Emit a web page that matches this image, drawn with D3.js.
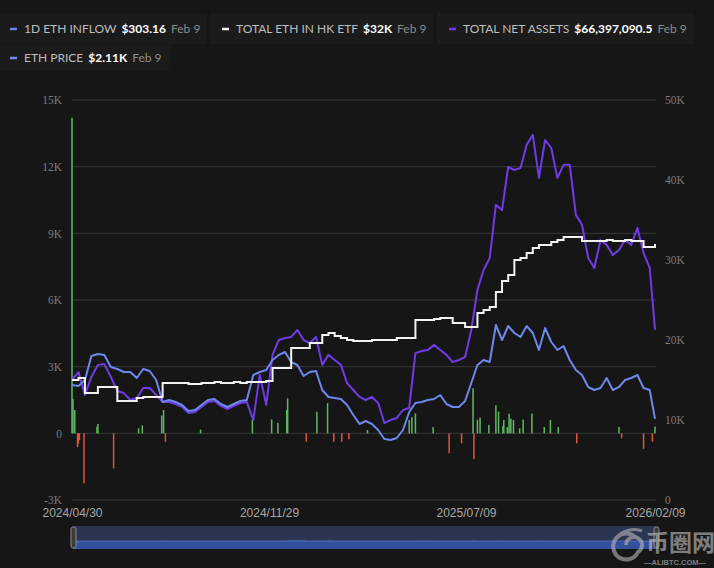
<!DOCTYPE html>
<html>
<head>
<meta charset="utf-8">
<script src="https://cdn.jsdelivr.net/npm/d3@7"></script>
<style>
  html, body { margin: 0; padding: 0; background: #161616; overflow: hidden; }
  svg { display: block; }
</style>
</head>
<body>
<div id="myChart"></div>
<script>
// weekly sample dates
let weekDates = [
  "2024-04-30","2024-05-07","2024-05-14","2024-05-21","2024-05-28","2024-06-04","2024-06-11","2024-06-18","2024-06-25","2024-07-02",
  "2024-07-09","2024-07-16","2024-07-23","2024-07-30","2024-08-06","2024-08-13","2024-08-20","2024-08-27","2024-09-03","2024-09-10",
  "2024-09-17","2024-09-24","2024-10-01","2024-10-08","2024-10-15","2024-10-22","2024-10-29","2024-11-05","2024-11-12","2024-11-19",
  "2024-11-26","2024-12-03","2024-12-10","2024-12-17","2024-12-24","2024-12-31","2025-01-07","2025-01-14","2025-01-21","2025-01-28",
  "2025-02-04","2025-02-11","2025-02-18","2025-02-25","2025-03-04","2025-03-11","2025-03-18","2025-03-25","2025-04-01","2025-04-08",
  "2025-04-15","2025-04-22","2025-04-29","2025-05-06","2025-05-13","2025-05-20","2025-05-27","2025-06-03","2025-06-10","2025-06-17",
  "2025-06-24","2025-07-01","2025-07-08","2025-07-15","2025-07-22","2025-07-29","2025-08-05","2025-08-12","2025-08-19","2025-08-26",
  "2025-09-02","2025-09-09","2025-09-16","2025-09-23","2025-09-30","2025-10-07","2025-10-14","2025-10-21","2025-10-28","2025-11-04",
  "2025-11-11","2025-11-18","2025-11-25","2025-12-02","2025-12-09","2025-12-16","2025-12-23","2025-12-30","2026-01-06","2026-01-13",
  "2026-01-20","2026-01-27","2026-02-03","2026-02-09"
];

// ETH price, USD
let ethPrice = [
  2990, 2964, 3120, 3744, 3796, 3770, 3458, 3406, 3328, 3328,
  3172, 3406, 3354, 3120, 2550, 2600, 2548, 2470, 2314, 2340,
  2470, 2600, 2626, 2496, 2418, 2496, 2574, 2600, 3250, 3328,
  3380, 3640, 3770, 3848, 3588, 3510, 3224, 3328, 3354, 2860,
  2678, 2652, 2626, 2470, 2210, 1976, 2054, 1976, 1820, 1586,
  1560, 1612, 1820, 2288, 2522, 2548, 2600, 2626, 2730, 2496,
  2418, 2418, 2574, 3042, 3510, 3640, 3588, 4550, 4160, 4524,
  4342, 4238, 4524, 4342, 3900, 4472, 4108, 3900, 4004, 3640,
  3380, 3250, 2938, 2860, 2912, 3172, 2860, 2938, 3120, 3172,
  3250, 2912, 2860, 2110
];

// total net assets, USD millions
let netAssets = [
  46.8, 49.9, 41.0, 48.0, 52.7, 53.0, 48.0, 42.5, 41.7, 39.0,
  39.8, 43.7, 43.7, 41.0, 38.2, 38.2, 37.4, 36.3, 33.9, 34.3,
  36.3, 38.2, 38.6, 36.7, 35.5, 36.7, 37.8, 38.2, 31.2, 48.8,
  37.1, 56.6, 62.4, 63.2, 63.6, 66.3, 62.4, 61.2, 63.6, 52.7,
  56.6, 54.6, 52.7, 45.6, 42.9, 40.2, 39.0, 40.2, 37.8, 30.0,
  31.2, 32.0, 35.1, 35.9, 57.3, 58.1, 58.5, 60.5, 58.5, 56.6,
  53.8, 54.6, 55.8, 66.3, 81.9, 89.7, 94.4, 115.1, 113.1, 129.9,
  128.7, 129.5, 138.5, 142.4, 125.6, 140.4, 137.3, 125.6, 130.7, 130.7,
  111.2, 107.3, 94.4, 90.5, 101.4, 99.5, 95.6, 97.5, 101.4, 99.5,
  106.1, 96.3, 90.5, 66.3970905
];

// total ETH held in HK ETFs
let totalEth = [
  15000, 15250, 13380, 13380, 14130, 14130, 14130, 12380, 12380, 12380,
  12750, 12880, 12880, 12880, 14630, 14630, 14630, 14630, 14500, 14500,
  14630, 14630, 14750, 14630, 14630, 14750, 14630, 14750, 14750, 14750,
  14880, 16500, 16500, 16500, 19000, 19000, 19000, 19630, 19630, 20630,
  20880, 20500, 20250, 20000, 19880, 19880, 19880, 20000, 20000, 20000,
  20000, 20250, 20250, 20250, 22500, 22500, 22500, 22630, 22750, 22750,
  22130, 22130, 21630, 21630, 23380, 23750, 24130, 26000, 27380, 28130,
  30000, 30250, 30880, 31500, 31880, 31880, 32250, 32500, 32880, 32880,
  32880, 32380, 32380, 32380, 32380, 32500, 32380, 32380, 32500, 32380,
  32380, 31630, 31630, 32000
];

// daily ETH inflow (bars)
let inflowDates = [
  "2024-04-30","2024-05-01","2024-05-03","2024-05-06","2024-05-07","2024-05-08","2024-05-13","2024-05-27","2024-05-28","2024-06-14",
  "2024-07-11","2024-07-15","2024-08-05","2024-08-07","2024-08-09","2024-09-16","2024-11-11","2024-12-02","2024-12-09","2024-12-19",
  "2024-12-20","2025-01-10","2025-01-22","2025-02-03","2025-02-10","2025-02-19","2025-02-27","2025-03-20","2025-05-06","2025-05-09",
  "2025-05-13","2025-06-02","2025-06-20","2025-07-04","2025-07-17","2025-07-18","2025-07-22","2025-07-25","2025-08-04","2025-08-12",
  "2025-08-15","2025-08-20","2025-08-21","2025-08-25","2025-08-27","2025-08-29","2025-09-01","2025-09-08","2025-09-12","2025-09-22",
  "2025-10-06","2025-10-13","2025-10-22","2025-11-12","2025-12-30","2026-01-02","2026-01-27","2026-02-06","2026-02-09"
];
let inflowValues = [
  14200, 1550, 1050, -620, -450, -300, -2250, 300, 420, -1575,
  225, 360, 800, 1050, -380, 170, 620, 620, 470, 1050,
  1575, -380, 970, 1360, -380, -380, -270, 150, 600, 730,
  900, 285, -900, -450, 2030, -1150, 610, 710, 380, 1265,
  975, 330, 600, 285, 885, 660, 600, 225, 615, 890,
  285, 600, 285, -450, 290, -225, -700, -375, 303.16
];

let leftTicks = [-3000, 0, 3000, 6000, 9000, 12000, 15000];
let rightTicks = [0, 10000, 20000, 30000, 40000, 50000];
let xTickDates = ["2024-04-30", "2024-11-29", "2025-07-09", "2026-02-09"];

let legendLabels = ["1D ETH INFLOW", "TOTAL ETH IN HK ETF", "TOTAL NET ASSETS", "ETH PRICE"];
let legendValues = ["$303.16", "$32K", "$66,397,090.5", "$2.11K"];
let legendDates = ["Feb 9", "Feb 9", "Feb 9", "Feb 9"];

const width = 714;
const height = 568;
const plotLeft = 72, plotRight = 656, plotTop = 100, plotBottom = 500;
const colors = ["#6b7fe6", "#f2f2f2", "#6e3ce6", "#6e87eb"];
const parse = d3.timeParse("%Y-%m-%d");

let svg = d3.select("#myChart")
  .append("svg")
  .attr("width", width)
  .attr("height", height);

svg.append("rect").attr("width", width).attr("height", height).attr("fill", "#161616");

//scales
let x = d3.scaleTime()
  .domain(xTickDates.map(parse))
  .range([72, 269, 466, 655]);
let yLeft = d3.scaleLinear().domain([-3000, 15000]).range([plotBottom, plotTop]);
let yRight = d3.scaleLinear().domain([0, 50000]).range([plotBottom, plotTop]);
let yPrice = d3.scaleLinear().domain([0, 10400]).range([plotBottom, plotTop]);
let yAssets = d3.scaleLinear().domain([0, 156]).range([plotBottom, plotTop]);

//legend panels
let panels = [[0, 13, 207, 31], [210, 13, 223, 31], [437, 13, 257, 31], [0, 45, 171, 26]];
let markerX = [10, 222, 449, 10];
let rowY = [29, 29, 29, 58];

let legend = svg.selectAll(".legends")
  .data(legendLabels)
  .enter().append("g")
  .attr("class", "legends");

legend.append("rect")
  .attr("x", (d, i) => panels[i][0])
  .attr("y", (d, i) => panels[i][1])
  .attr("width", (d, i) => panels[i][2])
  .attr("height", (d, i) => panels[i][3])
  .attr("fill", "#1b1b1b");

legend.append("line")
  .attr("x1", (d, i) => markerX[i])
  .attr("x2", (d, i) => markerX[i] + 7)
  .attr("y1", (d, i) => rowY[i])
  .attr("y2", (d, i) => rowY[i])
  .attr("stroke", (d, i) => colors[i])
  .attr("stroke-width", 2.5);

legend.each(function (d, i) {
  let g = d3.select(this);
  let tx = markerX[i] + 14;
  let t1 = g.append("text")
    .attr("x", tx).attr("y", rowY[i]).attr("dy", "0.35em")
    .style("font-family", "Lato").style("font-size", "12px")
    .attr("fill", "#bdbdbd")
    .text(d);
  tx += t1.node().getComputedTextLength() + 5;
  let t2 = g.append("text")
    .attr("x", tx).attr("y", rowY[i]).attr("dy", "0.35em")
    .style("font-family", "Lato").style("font-size", "12px").style("font-weight", "bold")
    .attr("fill", "#ffffff")
    .text(legendValues[i]);
  tx += t2.node().getComputedTextLength() + 5;
  g.append("text")
    .attr("x", tx).attr("y", rowY[i]).attr("dy", "0.35em")
    .style("font-family", "Lato").style("font-size", "12px")
    .attr("fill", "#8c8c8c")
    .text(legendDates[i]);
});

//grid lines
svg.append("g")
  .selectAll("line")
  .data(leftTicks)
  .enter().append("line")
  .attr("x1", plotLeft).attr("x2", plotRight)
  .attr("y1", d => yLeft(d)).attr("y2", d => yLeft(d))
  .attr("stroke", "#3a3a3a")
  .attr("stroke-width", 1);

//axes
let fmtK = d => d === 0 ? "0" : (d / 1000) + "K";

let axL = svg.append("g")
  .attr("transform", `translate(${plotLeft},0)`)
  .call(d3.axisLeft(yLeft).tickValues(leftTicks).tickSize(0).tickPadding(10).tickFormat(fmtK));
let axR = svg.append("g")
  .attr("transform", `translate(${plotRight},0)`)
  .call(d3.axisRight(yRight).tickValues(rightTicks).tickSize(0).tickPadding(9).tickFormat(fmtK));
[axL, axR].forEach(a => {
  a.attr("font-family", "Liberation Serif");
  a.select(".domain").remove();
  a.selectAll("text")
    .attr("fill", "#7c7c7c")
    .style("font-family", "Liberation Serif")
    .style("font-size", "11.5px");
});

let axB = svg.append("g")
  .attr("transform", `translate(0,${plotBottom})`)
  .call(d3.axisBottom(x).tickValues(xTickDates.map(parse)).tickSize(0).tickPadding(8).tickFormat(d3.timeFormat("%Y/%m/%d")));
axB.select(".domain").remove();
axB.selectAll("text")
  .attr("fill", "#a8a8a8")
  .style("font-family", "Liberation Sans")
  .style("font-size", "12px");

//inflow bars
let bars = inflowDates.map((d, i) => ({ date: parse(d), v: inflowValues[i] }));
svg.append("g")
  .selectAll("rect")
  .data(bars)
  .enter().append("rect")
  .attr("x", d => x(d.date) - 0.75)
  .attr("width", 1.5)
  .attr("y", d => yLeft(Math.max(0, d.v)))
  .attr("height", d => Math.abs(yLeft(d.v) - yLeft(0)))
  .attr("fill", d => d.v >= 0 ? "#5fb962" : "#e0553f");

//lines
let weeks = weekDates.map(parse);

let purpleLine = d3.line().x((d, i) => x(weeks[i])).y(d => yAssets(d));
let blueLine = d3.line().x((d, i) => x(weeks[i])).y(d => yPrice(d));
let whiteLine = d3.line().x((d, i) => x(weeks[i])).y(d => yRight(d)).curve(d3.curveStepAfter);

svg.append("path")
  .attr("d", purpleLine(netAssets))
  .attr("fill", "none").attr("stroke", colors[2]).attr("stroke-width", 2)
  .attr("stroke-linejoin", "round");
svg.append("path")
  .attr("d", blueLine(ethPrice))
  .attr("fill", "none").attr("stroke", colors[3]).attr("stroke-width", 2)
  .attr("stroke-linejoin", "round");
svg.append("path")
  .attr("d", whiteLine(totalEth))
  .attr("fill", "none").attr("stroke", colors[1]).attr("stroke-width", 2);

//navigator
let nav = svg.append("g");
nav.append("rect")
  .attr("x", 73).attr("y", 526).attr("width", 584).attr("height", 23)
  .attr("fill", "#2c3550");
nav.append("clipPath").attr("id", "navclip")
  .append("rect").attr("x", 73).attr("y", 526).attr("width", 584).attr("height", 23);
let yMini = d3.scaleLinear().domain([-15000, 15000]).range([552, 532]);
nav.append("path")
  .attr("clip-path", "url(#navclip)")
  .attr("d", d3.area().x(d => x(d.date)).y0(549).y1(d => yMini(d.v)).curve(d3.curveStepAfter)(bars))
  .attr("fill", "#34509c")
  .attr("stroke", "#5472c4")
  .attr("stroke-width", 0.8);
nav.append("rect")
  .attr("x", 80).attr("y", 541).attr("width", 577).attr("height", 8)
  .attr("fill", "#34509c");
nav.append("line")
  .attr("x1", 73).attr("x2", 657).attr("y1", 541).attr("y2", 541)
  .attr("stroke", "#5472c4").attr("stroke-width", 0.8);
[71, 654].forEach(hx => {
  nav.append("rect")
    .attr("x", hx).attr("y", 527).attr("width", 5).attr("height", 21).attr("rx", 2)
    .attr("fill", "#3a3a3a").attr("stroke", "#8a8a8a").attr("stroke-width", 1);
});

//watermark
let wm = svg.append("g").attr("opacity", 0.6);
wm.append("path")
  .attr("d", "M636,538 A13,13 0 1 0 638,552 A8,8 0 1 0 626,545")
  .attr("fill", "none").attr("stroke", "#b8b8b8").attr("stroke-width", 4);
wm.append("path")
  .attr("d", "M620,534 Q632,527 642,531")
  .attr("fill", "none").attr("stroke", "#b8b8b8").attr("stroke-width", 3);
wm.append("text")
  .attr("x", 646).attr("y", 551)
  .style("font-family", "Noto Sans CJK SC").style("font-size", "23px").style("font-weight", "bold")
  .attr("fill", "#c4c4c4")
  .text("币圈网");
wm.append("text")
  .attr("x", 644).attr("y", 565)
  .style("font-family", "Liberation Sans").style("font-size", "7.5px").style("font-weight", "bold")
  .attr("fill", "#c4c4c4")
  .text("—ALIBTC.COM—");
</script>
</body>
</html>
